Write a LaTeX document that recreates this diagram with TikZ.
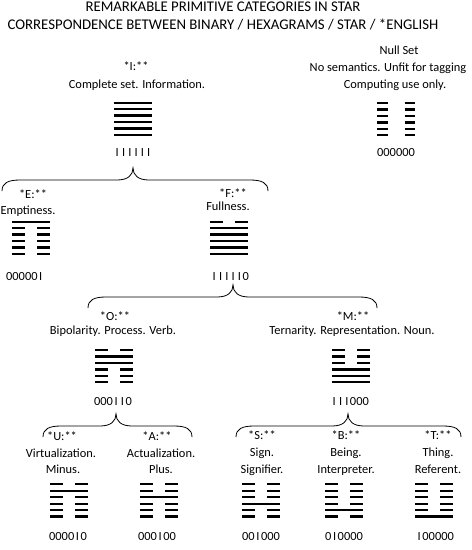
\documentclass[tikz,border=0pt]{standalone}
\usepackage{fontspec}
\setmainfont{Carlito}
\newcommand\one{\makebox[0.507em]{I}}
\newcommand\hexg[5][6]{% #1 half gap, #2 name, #3 x, #4 y first line, #5 bits top to bottom
  \coordinate (#2) at (#3,#4);
  \foreach \b [count=\i] in {#5} {
    \pgfmathsetmacro\yy{#4+(\i-1)*6.45}
    \ifnum\b=1
      \draw[hexl] (#3-19,\yy) -- (#3+19,\yy);
    \else
      \draw[hexl] (#3-19,\yy) -- (#3-#1,\yy) (#3+#1,\yy) -- (#3+19,\yy);
    \fi
  }}
\newcommand\bracepath[5]{% #1 name, #2 xl, #3 xt, #4 xr, #5 yh
  \coordinate (#1) at (#3,#5-12);
  \draw[bracel] (#2,#5+11) .. controls (#2,#5+3) and (#2+6,#5) .. (#2+18,#5)
    -- (#3-16,#5) .. controls (#3-5,#5) and (#3,#5-5) .. (#1)
    .. controls (#3,#5-5) and (#3+5,#5) .. (#3+16,#5)
    -- (#4-18,#5) .. controls (#4-6,#5) and (#4,#5+3) .. (#4,#5+11);}
\tikzset{
  hexl/.style={line width=2.3pt},
  bracel/.style={line width=0.8pt},
  lbl/.style={font=\fontsize{12.4}{14}\selectfont, inner sep=0pt, text height=8.4pt, text depth=2.2pt, anchor=center},
  ttl/.style={font=\fontsize{14.8}{17}\selectfont, inner sep=0pt, text height=10pt, text depth=2.8pt, anchor=center}
}
\begin{document}
\begin{tikzpicture}[x=1pt,y=-1pt]
\useasboundingbox (0,0) rectangle (472,550);
% titles
\node[ttl] (t1) at (223,8) {REMARKABLE PRIMITIVE CATEGORIES IN STAR};
\node[ttl] (t2) at (223,26) {CORRESPONDENCE BETWEEN BINARY / HEXAGRAMS / STAR / *ENGLISH};
% I
\node[lbl] (Ik) at (136,67) {*I:**};
\node[lbl] (Id) at (137,85) {Complete set. Information.};
\hexg{Ih}{133}{102.7}{1,1,1,1,1,1}
\node[lbl] (Ib) at (133,153) {\one\one\one\one\one\one};
% Null
\node[lbl] (Nk) at (399,51) {Null Set};
\node[lbl] (Nd1) at (388,68) {No semantics. Unfit for tagging};
\node[lbl] (Nd2) at (395,85) {Computing use only.};
\hexg[8.5]{Nh}{396}{103}{0,0,0,0,0,0}
\node[lbl] (Nb) at (396,153) {000000};
% brace 1
\bracepath{br1}{2}{133}{268}{180}
% E
\node[lbl] (Ek) at (33,195) {*E:**};
\node[lbl] (Ed) at (28,211) {Emptiness.};
\hexg{Eh}{31}{221.7}{1,0,0,0,0,0}
\node[lbl] (Eb) at (25,277) {00000\one};
% F
\node[lbl] (Fk) at (233,194) {*F:**};
\node[lbl] (Fd) at (228,207) {Fullness.};
\hexg{Fh}{229}{221.7}{0,1,1,1,1,1}
\node[lbl] (Fb) at (230,277) {\one\one\one\one\one0};
% brace 2
\bracepath{br2}{88}{233}{377}{297}
% O
\node[lbl] (Ok) at (115,317) {*O:**};
\node[lbl] (Od) at (113,331) {Bipolarity. Process. Verb.};
\hexg{Oh}{114}{350}{0,1,1,0,0,0}
\node[lbl] (Ob) at (113,402) {000\one\one0};
% M
\node[lbl] (Mk) at (353,317) {*M:**};
\node[lbl] (Md) at (352,331) {Ternarity. Representation. Noun.};
\hexg{Mh}{351}{350}{0,0,0,1,1,1}
\node[lbl] (Mb) at (350,402) {\one\one\one000};
% brace 3, 4
\bracepath{br3}{43}{116}{192}{426}
\bracepath{br4}{236}{348}{461}{426}
% U
\node[lbl] (Uk) at (62,437) {*U:**};
\node[lbl] (Ud1) at (61,454) {Virtualization.};
\node[lbl] (Ud2) at (63,470) {Minus.};
\hexg{Uh}{69}{484.3}{0,1,0,0,0,0}
\node[lbl] (Ub) at (68,537) {0000\one0};
% A
\node[lbl] (Ak) at (157,437) {*A:**};
\node[lbl] (Ad1) at (161,454) {Actualization.};
\node[lbl] (Ad2) at (161,470) {Plus.};
\hexg{Ah}{159}{484.3}{0,0,1,0,0,0}
\node[lbl] (Ab) at (157,537) {000\one00};
% S
\node[lbl] (Sk) at (262,436) {*S:**};
\node[lbl] (Sd1) at (262,453) {Sign.};
\node[lbl] (Sd2) at (262,470) {Signifier.};
\hexg{Sh}{261}{484.3}{0,0,0,1,0,0}
\node[lbl] (Sb) at (261,537) {00\one000};
% B
\node[lbl] (Bk) at (346,436) {*B:**};
\node[lbl] (Bd1) at (346,453) {Being.};
\node[lbl] (Bd2) at (346,470) {Interpreter.};
\hexg{Bh}{344}{484.3}{0,0,0,0,1,0}
\node[lbl] (Bb) at (344,537) {0\one0000};
% T
\node[lbl] (Tk) at (438,436) {*T:**};
\node[lbl] (Td1) at (438,453) {Thing.};
\node[lbl] (Td2) at (438,470) {Referent.};
\hexg{Th}{434}{484.3}{0,0,0,0,0,1}
\node[lbl] (Tb) at (435,537) {\one00000};
\end{tikzpicture}
\end{document}
